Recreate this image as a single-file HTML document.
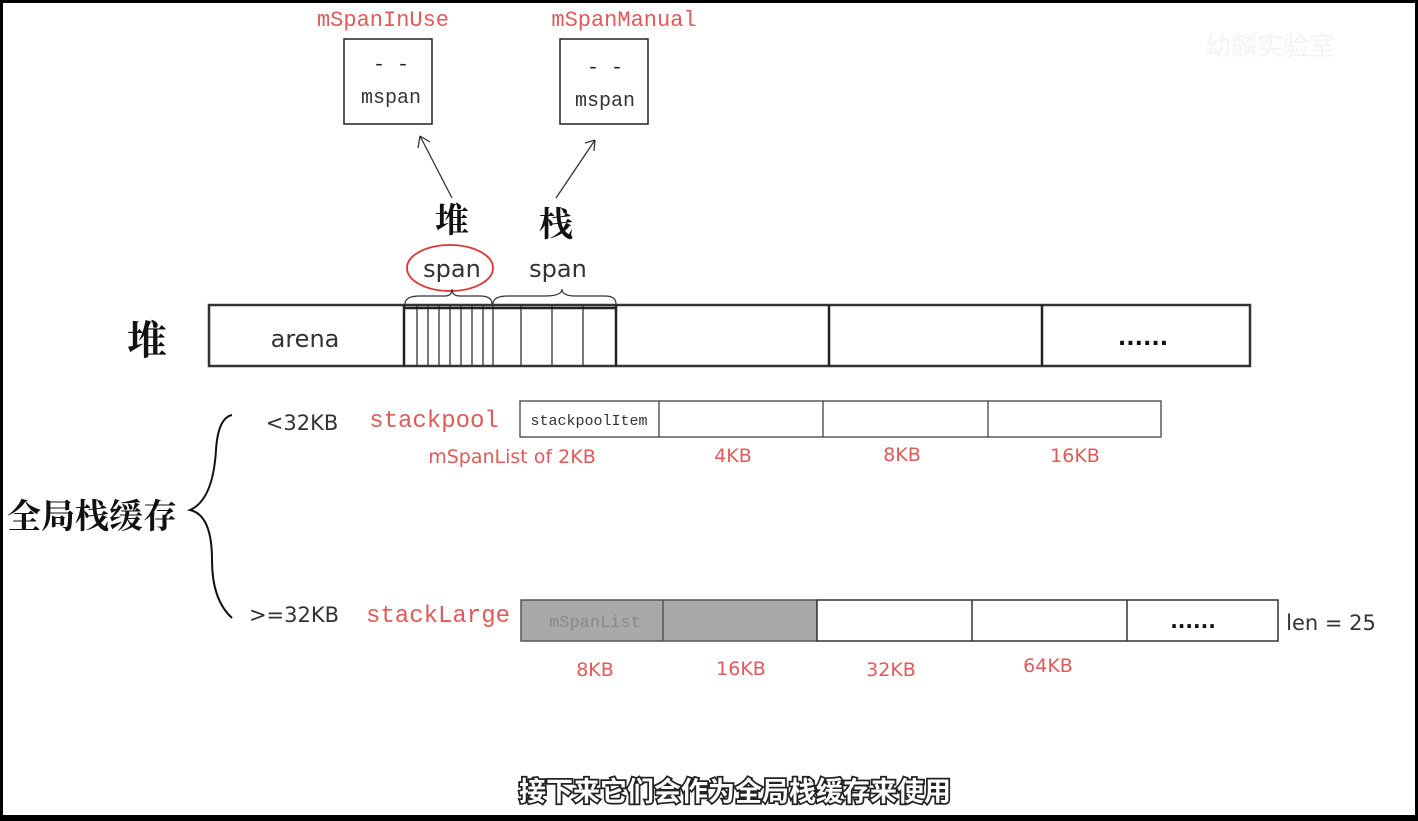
<!DOCTYPE html>
<html><head><meta charset="utf-8"><style>
html,body{margin:0;padding:0;background:#000;}
svg{display:block}
</style></head><body>
<svg width="1418" height="821" xmlns="http://www.w3.org/2000/svg">
<rect x="0" y="0" width="1418" height="821" fill="#000"/>
<rect x="3" y="3" width="1412" height="812" fill="#fff"/>
<g font-family="Liberation Mono, monospace">
<text x="383" y="26" font-size="22" fill="#e05a5a" text-anchor="middle">mSpanInUse</text>
<text x="624" y="26" font-size="22" fill="#e05a5a" text-anchor="middle">mSpanManual</text>
<rect x="344" y="39" width="88" height="85" fill="#fff" stroke="#222" stroke-width="1.5"/>
<rect x="560" y="39" width="88" height="85" fill="#fff" stroke="#222" stroke-width="1.5"/>
<text x="391" y="70" font-size="20" fill="#222" text-anchor="middle">- -</text>
<text x="391" y="103" font-size="20" fill="#333" text-anchor="middle">mspan</text>
<text x="605" y="73" font-size="20" fill="#222" text-anchor="middle">- -</text>
<text x="605" y="106" font-size="20" fill="#333" text-anchor="middle">mspan</text>
</g>
<g stroke="#333" stroke-width="1.3" fill="none">
<path d="M452 198 L420 136"/><path d="M420 136 L418 148 M420 136 L430 142"/>
<path d="M556 198 L595 140"/><path d="M595 140 L585 143 M595 140 L594 151"/>
</g>
<g font-family="Noto Serif CJK SC, serif" font-size="34" fill="#111" font-weight="bold">
<text x="452" y="232" text-anchor="middle">堆</text>
<text x="556" y="236" text-anchor="middle">栈</text>
<text x="147" y="354" text-anchor="middle" font-size="40">堆</text>
</g>
<g font-family="DejaVu Sans, sans-serif" font-size="24" fill="#333">
<text x="452" y="277" text-anchor="middle">span</text>
<text x="558" y="277" text-anchor="middle">span</text>
</g>
<ellipse cx="450" cy="268" rx="43" ry="23" fill="none" stroke="#d33" stroke-width="1.8"/>
<g stroke="#333" stroke-width="1.2" fill="none">
<path d="M405 304 Q405 296 420 296 L445 296 Q452 296 452 289 Q452 296 460 296 L480 296 Q492 296 492 304"/>
<path d="M493 304 Q493 296 508 296 L545 296 Q562 296 562 289 Q562 296 575 296 L605 296 Q616 296 616 304"/>
</g>
<rect x="209" y="305" width="1041" height="61" fill="#fff" stroke="#333" stroke-width="2.5"/>
<text x="305" y="347" font-family="DejaVu Sans, sans-serif" font-size="24" fill="#333" text-anchor="middle">arena</text>
<g stroke="#222" stroke-width="1.2">
<line x1="417" y1="306" x2="417" y2="365"/><line x1="428" y1="306" x2="428" y2="365"/>
<line x1="439" y1="306" x2="439" y2="365"/><line x1="450" y1="306" x2="450" y2="365"/>
<line x1="461" y1="306" x2="461" y2="365"/><line x1="472" y1="306" x2="472" y2="365"/>
<line x1="483" y1="306" x2="483" y2="365"/><line x1="493" y1="306" x2="493" y2="365"/>
<line x1="521" y1="306" x2="521" y2="365"/><line x1="552" y1="306" x2="552" y2="365"/>
<line x1="583" y1="306" x2="583" y2="365"/>
</g>
<g stroke="#222" stroke-width="2.5">
<line x1="404" y1="305" x2="404" y2="366"/><line x1="616" y1="305" x2="616" y2="366"/>
<line x1="829" y1="305" x2="829" y2="366"/><line x1="1042" y1="305" x2="1042" y2="366"/>
<line x1="404" y1="308" x2="616" y2="308"/>
</g>
<text x="1143" y="345" font-family="DejaVu Sans, sans-serif" font-size="22" font-weight="bold" fill="#111" text-anchor="middle">......</text>

<path d="M232 415 Q218 418 216 450 Q213 500 190 510 Q212 515 212 560 Q212 600 232 618" fill="none" stroke="#111" stroke-width="2"/>
<text x="92" y="528" font-family="Noto Serif CJK SC, serif" font-size="34" font-weight="bold" fill="#111" text-anchor="middle">全局栈缓存</text>
<g font-family="DejaVu Sans, sans-serif" font-size="21" fill="#333">
<text x="302" y="430" text-anchor="middle">&lt;32KB</text>
<text x="294" y="622" text-anchor="middle">&gt;=32KB</text>
<text x="1331" y="630" text-anchor="middle">len = 25</text>
</g>
<g font-family="Liberation Mono, monospace" font-size="24" fill="#e05a5a">
<text x="434" y="427" text-anchor="middle">stackpool</text>
<text x="438" y="622" text-anchor="middle">stackLarge</text>
</g>
<rect x="520" y="401" width="641" height="36" fill="#fff" stroke="#333" stroke-width="1.2"/>
<g stroke="#333" stroke-width="1.2"><line x1="659" y1="401" x2="659" y2="437"/><line x1="823" y1="401" x2="823" y2="437"/><line x1="988" y1="401" x2="988" y2="437"/></g>
<text x="589" y="425" font-family="Liberation Mono, monospace" font-size="15" fill="#333" text-anchor="middle">stackpoolItem</text>
<g font-family="DejaVu Sans, sans-serif" font-size="19" fill="#e05a5a" text-anchor="middle">
<text x="512" y="463">mSpanList of 2KB</text>
<text x="733" y="462">4KB</text>
<text x="902" y="461">8KB</text>
<text x="1075" y="462">16KB</text>
<text x="595" y="676">8KB</text>
<text x="741" y="675">16KB</text>
<text x="891" y="676">32KB</text>
<text x="1048" y="672">64KB</text>
</g>
<rect x="521" y="600" width="296" height="41" fill="#a9a9a9" stroke="#555" stroke-width="1.5"/>
<rect x="817" y="600" width="461" height="41" fill="#fff" stroke="#333" stroke-width="1.5"/>
<g stroke="#555" stroke-width="1.5"><line x1="663" y1="600" x2="663" y2="641"/></g>
<g stroke="#333" stroke-width="1.5"><line x1="972" y1="600" x2="972" y2="641"/><line x1="1127" y1="600" x2="1127" y2="641"/></g>
<text x="595" y="627" font-family="Liberation Mono, monospace" font-size="17" fill="#888" text-anchor="middle">mSpanList</text>
<text x="1193" y="628" font-family="DejaVu Sans, sans-serif" font-size="20" font-weight="bold" fill="#111" text-anchor="middle">......</text>
<text x="735" y="801" font-family="Liberation Sans, Noto Sans CJK SC, sans-serif" font-size="27" font-weight="bold" fill="#fff" stroke="#222" stroke-width="3.5" paint-order="stroke" text-anchor="middle">接下来它们会作为全局栈缓存来使用</text>
<text x="1270" y="55" font-family="Noto Sans CJK SC, sans-serif" font-size="26" fill="#eee" text-anchor="middle" opacity="0.7">幼麟实验室</text>
</svg>
</body></html>
